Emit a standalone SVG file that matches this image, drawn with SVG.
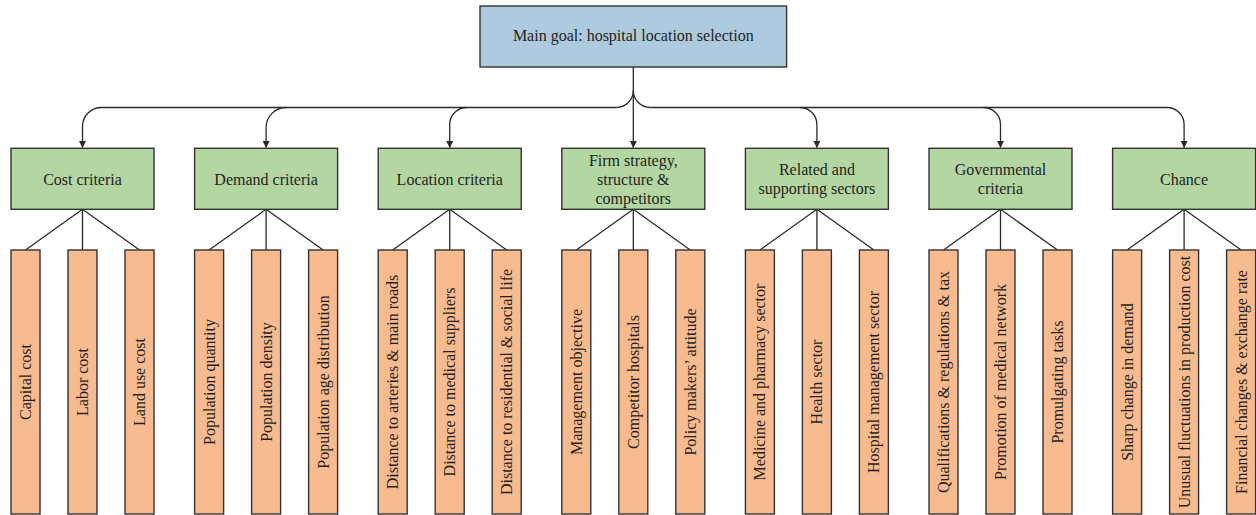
<svg xmlns="http://www.w3.org/2000/svg" width="1256" height="515" viewBox="0 0 1256 515">
<style>
text{font-family:"Liberation Serif","Times New Roman",serif;font-size:16px;fill:#231f20;text-anchor:middle}
.main{fill:#aecade;stroke:#333;stroke-width:1.4}
.crit{fill:#b3d6a2;stroke:#333;stroke-width:1.4}
.leaf{fill:#f8bb90;stroke:#333;stroke-width:1.4}
.con{fill:none;stroke:#2a2a2a;stroke-width:1.3}
</style>
<defs>
<marker id="ah" markerUnits="userSpaceOnUse" markerWidth="8" markerHeight="8" refX="6.5" refY="3.5" orient="auto">
<path d="M0,0 L7,3.5 L0,7 z" fill="#2a2a2a"/>
</marker>
</defs>

<g id="connectors">
<path class="con" d="M633.3,67 V147.5" marker-end="url(#ah)"/>
<path class="con" d="M616.3,107.5 A17 17 0 0 0 633.3 90.5 A17 17 0 0 0 650.3 107.5"/>
<path class="con" d="M616.3,107.5 H101.5 A19 19 0 0 0 82.5 126.5 V147.5" marker-end="url(#ah)"/>
<path class="con" d="M286.1,107.5 A20 20 0 0 0 266.1 127.5 V147.5" marker-end="url(#ah)"/>
<path class="con" d="M466.7,107.5 A17 17 0 0 0 449.7 124.5 V147.5" marker-end="url(#ah)"/>
<path class="con" d="M650.3,107.5 H1167.1 A17 17 0 0 1 1184.1 124.5 V147.5" marker-end="url(#ah)"/>
<path class="con" d="M799.9,107.5 A17 17 0 0 1 816.9 124.5 V147.5" marker-end="url(#ah)"/>
<path class="con" d="M983.5,107.5 A17 17 0 0 1 1000.5 124.5 V147.5" marker-end="url(#ah)"/>
<path class="con" d="M25.5,250 L82.5,209.3 L139.5,250 M82.5,209.3 V250"/>
<path class="con" d="M209.1,250 L266.1,209.3 L323.1,250 M266.1,209.3 V250"/>
<path class="con" d="M392.7,250 L449.7,209.3 L506.7,250 M449.7,209.3 V250"/>
<path class="con" d="M576.3,250 L633.3,209.3 L690.3,250 M633.3,209.3 V250"/>
<path class="con" d="M759.9,250 L816.9,209.3 L873.9,250 M816.9,209.3 V250"/>
<path class="con" d="M943.5,250 L1000.5,209.3 L1057.5,250 M1000.5,209.3 V250"/>
<path class="con" d="M1127.1,250 L1184.1,209.3 L1241.1,250 M1184.1,209.3 V250"/>
</g>

<g id="goal">
<rect class="main" x="480" y="6" width="306.6" height="61"/>
<text x="633.3" y="41">Main goal: hospital location selection</text>
</g>

<g id="cost">
<rect class="crit" x="11" y="148.3" width="143" height="61"/>
<text x="82.5" y="184.5">Cost criteria</text>
</g>
<g id="demand">
<rect class="crit" x="194.6" y="148.3" width="143" height="61"/>
<text x="266.1" y="184.5">Demand criteria</text>
</g>
<g id="location">
<rect class="crit" x="378.2" y="148.3" width="143" height="61"/>
<text x="449.7" y="184.5">Location criteria</text>
</g>
<g id="firm">
<rect class="crit" x="561.8" y="148.3" width="143" height="61"/>
<text x="633.3" y="165.5">Firm strategy,</text>
<text x="633.3" y="184.5">structure &amp;</text>
<text x="633.3" y="203.5">competitors</text>
</g>
<g id="related">
<rect class="crit" x="745.4" y="148.3" width="143" height="61"/>
<text x="816.9" y="174.5">Related and</text>
<text x="816.9" y="193.5">supporting sectors</text>
</g>
<g id="governmental">
<rect class="crit" x="929" y="148.3" width="143" height="61"/>
<text x="1000.5" y="174.5">Governmental</text>
<text x="1000.5" y="193.5">criteria</text>
</g>
<g id="chance">
<rect class="crit" x="1112.6" y="148.3" width="143" height="61"/>
<text x="1184.1" y="184.5">Chance</text>
</g>

<g id="leaf-capital"><rect class="leaf" x="11" y="250" width="29" height="264"/><text transform="translate(25.5,382) rotate(-90)" y="5.5">Capital cost</text></g>
<g id="leaf-labor"><rect class="leaf" x="68" y="250" width="29" height="264"/><text transform="translate(82.5,382) rotate(-90)" y="5.5">Labor cost</text></g>
<g id="leaf-land"><rect class="leaf" x="125" y="250" width="29" height="264"/><text transform="translate(139.5,382) rotate(-90)" y="5.5">Land use cost</text></g>

<g id="leaf-popq"><rect class="leaf" x="194.6" y="250" width="29" height="264"/><text transform="translate(209.1,382) rotate(-90)" y="5.5">Population quantity</text></g>
<g id="leaf-popd"><rect class="leaf" x="251.6" y="250" width="29" height="264"/><text transform="translate(266.1,382) rotate(-90)" y="5.5">Population density</text></g>
<g id="leaf-popa"><rect class="leaf" x="308.6" y="250" width="29" height="264"/><text transform="translate(323.1,382) rotate(-90)" y="5.5">Population age distribution</text></g>

<g id="leaf-art"><rect class="leaf" x="378.2" y="250" width="29" height="264"/><text transform="translate(392.7,382) rotate(-90)" y="5.5">Distance to arteries &amp; main roads</text></g>
<g id="leaf-med"><rect class="leaf" x="435.2" y="250" width="29" height="264"/><text transform="translate(449.7,382) rotate(-90)" y="5.5">Distance to medical suppliers</text></g>
<g id="leaf-res"><rect class="leaf" x="492.2" y="250" width="29" height="264"/><text transform="translate(506.7,382) rotate(-90)" y="5.5">Distance to residential &amp; social life</text></g>

<g id="leaf-mgmt"><rect class="leaf" x="561.8" y="250" width="29" height="264"/><text transform="translate(576.3,382) rotate(-90)" y="5.5">Management objective</text></g>
<g id="leaf-comp"><rect class="leaf" x="618.8" y="250" width="29" height="264"/><text transform="translate(633.3,382) rotate(-90)" y="5.5">Competitor hospitals</text></g>
<g id="leaf-policy"><rect class="leaf" x="675.8" y="250" width="29" height="264"/><text transform="translate(690.3,382) rotate(-90)" y="5.5">Policy makers’ attitude</text></g>

<g id="leaf-pharm"><rect class="leaf" x="745.4" y="250" width="29" height="264"/><text transform="translate(759.9,382) rotate(-90)" y="5.5">Medicine and pharmacy sector</text></g>
<g id="leaf-health"><rect class="leaf" x="802.4" y="250" width="29" height="264"/><text transform="translate(816.9,382) rotate(-90)" y="5.5">Health sector</text></g>
<g id="leaf-hosp"><rect class="leaf" x="859.4" y="250" width="29" height="264"/><text transform="translate(873.9,382) rotate(-90)" y="5.5">Hospital management sector</text></g>

<g id="leaf-qual"><rect class="leaf" x="929" y="250" width="29" height="264"/><text transform="translate(943.5,382) rotate(-90)" y="5.5">Qualifications &amp; regulations &amp; tax</text></g>
<g id="leaf-promo"><rect class="leaf" x="986" y="250" width="29" height="264"/><text transform="translate(1000.5,382) rotate(-90)" y="5.5">Promotion of medical network</text></g>
<g id="leaf-tasks"><rect class="leaf" x="1043" y="250" width="29" height="264"/><text transform="translate(1057.5,382) rotate(-90)" y="5.5">Promulgating tasks</text></g>

<g id="leaf-sharp"><rect class="leaf" x="1112.6" y="250" width="29" height="264"/><text transform="translate(1127.1,382) rotate(-90)" y="5.5">Sharp change in demand</text></g>
<g id="leaf-fluct"><rect class="leaf" x="1169.6" y="250" width="29" height="264"/><text transform="translate(1184.1,382) rotate(-90)" y="5.5">Unusual fluctuations in production cost</text></g>
<g id="leaf-fin"><rect class="leaf" x="1226.6" y="250" width="29" height="264"/><text transform="translate(1241.1,382) rotate(-90)" y="5.5">Financial changes &amp; exchange rate</text></g>
</svg>
